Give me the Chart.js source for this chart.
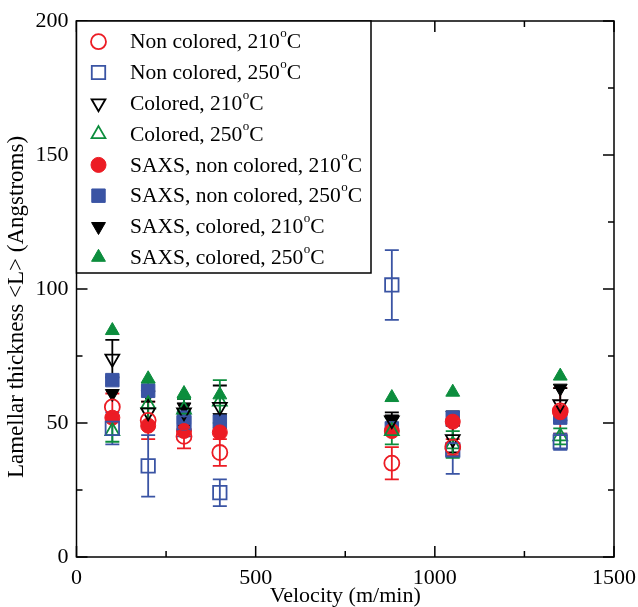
<!DOCTYPE html>
<html>
<head>
<meta charset="utf-8">
<script src="https://cdn.jsdelivr.net/npm/chart.js@4.4.1/dist/chart.umd.min.js"></script>
<style>
  html, body { margin: 0; padding: 0; background: #fff; }
  #wrap { width: 638px; height: 607px; }
</style>
</head>
<body>
<div id="wrap"><canvas id="chart" width="638" height="607"></canvas></div>
<script>
// velocities (m/min)
const velocity = [100, 200, 300, 400, 880, 1050, 1350];

// lamellar thickness <L> (Angstroms) + error bars
const nonColored210 = [56, 51, 45, 39, 35, 41, 54.5];
const nonColored210Err = [5, 7, 4.5, 5, 6, 3, 8.5];
const nonColored250 = [48, 34, 50, 24, 101.5, 40, 43];
const nonColored250Err = [6, 11.5, 5, 5, 13, 9, 3];
const colored210 = [74, 54, 54, 56, 51, 44, 57];
const colored210Err = [7, 4, 5, 8, 3, 5, 6];
const colored250 = [47, 57, 55, 58, 47, 42, 45];
const colored250Err = [4, 8, 4, 8, 5, 5, 3];

const saxsNonColored210 = [52, 49, 47, 46.5, 47, 50.5, 54];
const saxsNonColored250 = [66, 62, 52, 50.5, 48, 52, 52];
const saxsColored210 = [61, 60.5, 56, 52, 51.5, 53, 63];
const saxsColored250 = [84.5, 66.5, 61, 60.5, 59.5, 61.5, 67.5];

const xTicks = [0, 500, 1000, 1500];
const yTicks = [0, 50, 100, 150, 200];

const RED = '#ec1c24';
const BLUE = '#3a54a4';
const BLACK = '#000000';
const GREEN = '#0c8d3d';
const SERIF = '"Liberation Serif", "DejaVu Serif", serif';

function pts(ys, errs) {
    return velocity.map((v, i) => ({ x: v, y: ys[i], err: errs ? errs[i] : 0 }));
}

function series(label, ys, errs, color, style, filled, radius, rotation) {
    return {
        label,
        data: pts(ys, errs),
        showLine: false,
        borderColor: color,
        backgroundColor: filled ? color : 'rgba(0,0,0,0)',
        pointStyle: style,
        pointRotation: rotation || 0,
        pointRadius: radius,
        pointBorderWidth: filled ? 1 : 1.8,
        errColor: color
    };
}

const datasets = [
    series('Non colored, 210', nonColored210, nonColored210Err, RED, 'circle', false, 7.5),
    series('Non colored, 250', nonColored250, nonColored250Err, BLUE, 'rect', false, 9.5),
    series('Colored, 210', colored210, colored210Err, BLACK, 'triangle', false, 8, 180),
    series('Colored, 250', colored250, colored250Err, GREEN, 'triangle', false, 8),
    series('SAXS, non colored, 210', saxsNonColored210, null, RED, 'circle', true, 7.5),
    series('SAXS, non colored, 250', saxsNonColored250, null, BLUE, 'rect', true, 9.5),
    series('SAXS, colored, 210', saxsColored210, null, BLACK, 'triangle', true, 8, 180),
    series('SAXS, colored, 250', saxsColored250, null, GREEN, 'triangle', true, 8)
];

// error bars, drawn under the markers
const errorBars = {
    id: 'errorBars',
    beforeDatasetsDraw(chart) {
        const { ctx, scales: { x, y } } = chart;
        ctx.save();
        ctx.lineWidth = 1.8;
        chart.data.datasets.forEach(ds => {
            ctx.strokeStyle = ds.errColor;
            ds.data.forEach(p => {
                if (!p.err) return;
                const px = x.getPixelForValue(p.x);
                const top = y.getPixelForValue(p.y + p.err);
                const bot = y.getPixelForValue(p.y - p.err);
                ctx.beginPath();
                ctx.moveTo(px, top); ctx.lineTo(px, bot);
                ctx.moveTo(px - 7, top); ctx.lineTo(px + 7, top);
                ctx.moveTo(px - 7, bot); ctx.lineTo(px + 7, bot);
                ctx.stroke();
            });
        });
        ctx.restore();
    }
};

// frame with inward ticks on all four sides, plus the y title
const frame = {
    id: 'frame',
    afterDraw(chart) {
        const { ctx, chartArea: a, scales: { x, y } } = chart;
        ctx.save();
        ctx.strokeStyle = '#000';
        ctx.lineWidth = 1.5;
        ctx.strokeRect(a.left, a.top, a.right - a.left, a.bottom - a.top);
        ctx.beginPath();
        for (let v = 0; v <= 1500; v += 250) {
            const px = x.getPixelForValue(v);
            const len = v % 500 === 0 ? 11 : 6;
            ctx.moveTo(px, a.bottom); ctx.lineTo(px, a.bottom - len);
            ctx.moveTo(px, a.top); ctx.lineTo(px, a.top + len);
        }
        for (let v = 0; v <= 200; v += 25) {
            const py = y.getPixelForValue(v);
            const len = v % 50 === 0 ? 11 : 6;
            ctx.moveTo(a.left, py); ctx.lineTo(a.left + len, py);
            ctx.moveTo(a.right, py); ctx.lineTo(a.right - len, py);
        }
        ctx.stroke();

        ctx.translate(17, 307);
        ctx.rotate(-Math.PI / 2);
        ctx.fillStyle = '#000';
        ctx.font = '23px ' + SERIF;
        ctx.textAlign = 'center';
        ctx.textBaseline = 'middle';
        ctx.fillText('Lamellar thickness <L> (Angstroms)', 0, 0);
        ctx.restore();
    }
};

function marker(ctx, ds, cx, cy) {
    const r = ds.pointRadius;
    ctx.save();
    ctx.strokeStyle = ds.borderColor;
    ctx.fillStyle = ds.backgroundColor;
    ctx.lineWidth = ds.pointBorderWidth;
    ctx.beginPath();
    if (ds.pointStyle === 'circle') {
        ctx.arc(cx, cy, r, 0, Math.PI * 2);
    } else if (ds.pointStyle === 'rect') {
        const s = r * Math.SQRT1_2;
        ctx.rect(cx - s, cy - s, 2 * s, 2 * s);
    } else {
        let rad = ds.pointRotation * Math.PI / 180;
        for (let k = 0; k < 3; k++) {
            const fx = cx + Math.sin(rad) * r, fy = cy - Math.cos(rad) * r;
            k ? ctx.lineTo(fx, fy) : ctx.moveTo(fx, fy);
            rad += 2 * Math.PI / 3;
        }
        ctx.closePath();
    }
    ctx.fill();
    ctx.stroke();
    ctx.restore();
}

// legend box with superscript degree "o"
const legendBox = {
    id: 'legendBox',
    afterDraw(chart) {
        const { ctx, chartArea: a } = chart;
        ctx.save();
        ctx.fillStyle = '#fff';
        ctx.fillRect(a.left, a.top, 294.5, 252);
        ctx.strokeStyle = '#000';
        ctx.lineWidth = 1.5;
        ctx.strokeRect(a.left, a.top, 294.5, 252);
        chart.data.datasets.forEach((ds, i) => {
            const cy = a.top + 20.7 + i * 30.8;
            marker(ctx, ds, a.left + 22, cy);
            ctx.fillStyle = '#000';
            ctx.textBaseline = 'middle';
            ctx.font = '21.5px ' + SERIF;
            let tx = a.left + 53.5;
            ctx.fillText(ds.label, tx, cy + 1);
            tx += ctx.measureText(ds.label).width + 0.5;
            ctx.font = '13px ' + SERIF;
            ctx.fillText('o', tx, cy - 8);
            tx += ctx.measureText('o').width;
            ctx.font = '21.5px ' + SERIF;
            ctx.fillText('C', tx, cy + 1);
        });
        ctx.restore();
    }
};

new Chart(document.getElementById('chart'), {
    type: 'scatter',
    data: { datasets },
    options: {
        responsive: false,
        animation: false,
        layout: { padding: { top: 21, right: 24, left: 0, bottom: 0 } },
        plugins: { legend: { display: false }, tooltip: { enabled: false } },
        scales: {
            x: {
                type: 'linear',
                min: 0, max: 1500,
                grid: { display: false },
                border: { display: false },
                afterBuildTicks(s) { s.ticks = xTicks.map(v => ({ value: v })); },
                afterFit(s) { s.height = 50; },
                ticks: { color: '#000', padding: 0, maxRotation: 0, callback: v => String(v), font: { family: SERIF, size: 22 } },
                title: { display: true, text: 'Velocity (m/min)', color: '#000', padding: { top: 0, bottom: -2 }, font: { family: SERIF, size: 22 } }
            },
            y: {
                type: 'linear',
                min: 0, max: 200,
                grid: { display: false },
                border: { display: false },
                afterBuildTicks(s) { s.ticks = yTicks.map(v => ({ value: v })); },
                afterFit(s) { s.width = 76.5; },
                ticks: { color: '#000', padding: 0, callback: v => String(v), font: { family: SERIF, size: 22 } }
            }
        }
    },
    plugins: [errorBars, frame, legendBox]
});
</script>
</body>
</html>
